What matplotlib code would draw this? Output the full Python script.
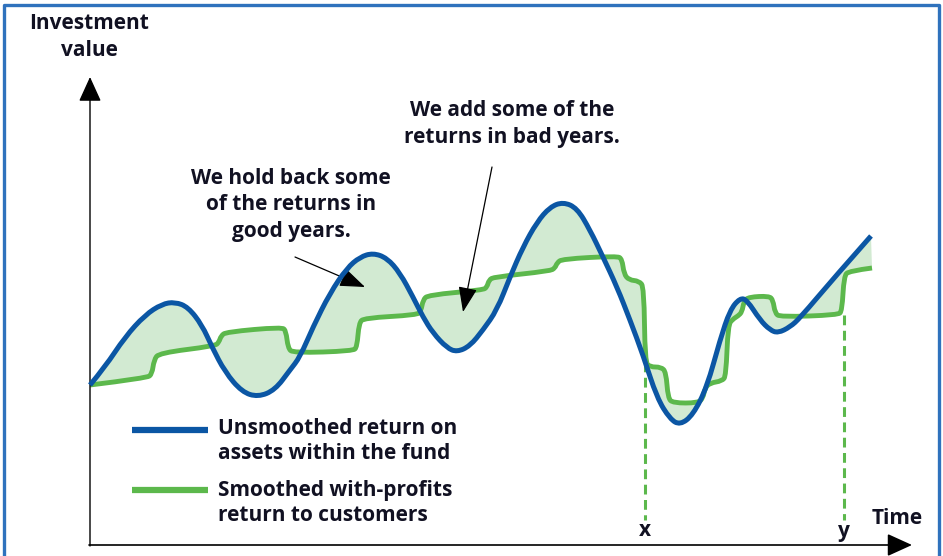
import matplotlib
matplotlib.use('Agg')
import matplotlib.pyplot as plt
from matplotlib.patches import Polygon, PathPatch
from matplotlib.path import Path
from matplotlib.lines import Line2D

plt.rcParams['font.family'] = ['Open Sans', 'DejaVu Sans']

# Unsmoothed return (blue): time, value
blue_t = [0, 15, 35, 55, 72, 85, 98, 112, 122, 135, 152, 168, 185, 200, 210, 223,
          240, 257, 270, 283, 297, 310, 323, 333, 343, 357, 367, 380, 393, 407, 420,
          433, 447, 460, 473, 487, 500, 513, 527, 540, 553, 567, 580, 590, 603, 617,
          630, 640, 650, 657, 670, 680, 688, 700, 710, 743, 781]
blue_v = [160, 178, 208, 230, 241, 243, 238, 220, 198, 173, 153, 148, 155, 175, 188, 218,
          252, 277, 288, 292, 287, 272, 248, 228, 212, 197, 193, 199, 215, 235, 268,
          298, 323, 338, 343, 337, 315, 288, 258, 225, 190, 147, 126, 120, 130, 158,
          205, 235, 247, 245, 225, 215, 212, 218, 227, 266, 309]

# Smoothed with-profits return (green steps)
green_t = [0, 57, 62, 64, 69, 125, 129, 131, 136, 192, 196, 198, 203, 263, 267, 269, 274,
           327, 331, 333, 338, 393, 397, 399, 404, 460, 465, 467, 472, 527, 532, 534, 539,
           549, 554, 555, 560, 571, 576, 578, 583, 608, 613, 615, 620, 632, 636, 638, 643,
           648, 652, 654, 659, 679, 683, 685, 690, 748, 752, 754, 759, 782]
green_v = [160, 167, 171, 185, 192, 199, 203, 209, 213, 218, 214, 197, 192, 194, 198, 222, 227,
           230, 234, 245, 250, 255, 258, 265, 268, 274, 277, 282, 286, 289, 286, 271, 265,
           264, 258, 183, 178, 178, 173, 147, 142, 142, 147, 157, 162, 164, 169, 220, 226,
           229, 233, 244, 248, 249, 245, 232, 228, 230, 234, 269, 274, 277]

# marked times x and y
mark_t = [555, 754]
mark_top = [183, 230]
mark_labels = ['x', 'y']

blue = '#0b56a4'
green = '#5cb84c'
fill = '#d2ead2'
txt = '#111122'
fw = 'bold'


def smooth_path(xs, ys):
    # quadratic B-spline path: read points act as control points
    pts = list(zip(xs, ys))
    verts = [pts[0]]
    codes = [Path.MOVETO]
    for i in range(1, len(pts) - 1):
        mid = ((pts[i][0] + pts[i + 1][0]) / 2, (pts[i][1] + pts[i + 1][1]) / 2)
        if i == len(pts) - 2:
            mid = pts[-1]
        verts += [pts[i], mid]
        codes += [Path.CURVE3, Path.CURVE3]
    return Path(verts, codes)


fig = plt.figure(figsize=(9.43, 5.56), dpi=100)
ax = fig.add_axes([0, 0, 1, 1])
ax.set_xlim(-90, 853)
ax.set_ylim(-11, 545)
ax.axis('off')

blue_path = smooth_path(blue_t, blue_v)
green_path = smooth_path(green_t, green_v)

# shaded area between the two lines
pts = [tuple(p) for p in blue_path.interpolated(8).vertices] + \
      [tuple(p) for p in green_path.interpolated(8).vertices[::-1]]
ax.add_patch(Polygon(pts, closed=True, facecolor=fill, edgecolor='none', zorder=1))

ax.add_patch(PathPatch(green_path, facecolor='none', edgecolor=green, lw=3.5,
                       joinstyle='round', capstyle='butt', zorder=3))
ax.add_patch(PathPatch(blue_path, facecolor='none', edgecolor=blue, lw=3.6,
                       joinstyle='round', capstyle='butt', zorder=4))

for t, top, lab in zip(mark_t, mark_top, mark_labels):
    ax.plot([t, t], [top, 25], color=green, lw=2.2, dashes=(3.2, 1.8), zorder=2)
    ax.text(t, 14, lab, ha='center', va='center', fontsize=15, color=txt,
            fontweight=fw)

# axes with arrows
ax.annotate('', xy=(0, 468), xytext=(0, -1),
            arrowprops=dict(arrowstyle='-|>,head_length=1.1,head_width=0.5',
                            color='black', lw=1.0, mutation_scale=14, shrinkA=0, shrinkB=0))
ax.annotate('', xy=(822, 0), xytext=(-1, 0),
            arrowprops=dict(arrowstyle='-|>,head_length=1.1,head_width=0.5',
                            color='black', lw=1.2, mutation_scale=14, shrinkA=0, shrinkB=0))

ax.text(-1, 508, 'Investment\nvalue', ha='center', va='center', fontsize=15,
        color=txt, fontweight=fw, linespacing=1.35)
ax.text(807, 27, 'Time', ha='center', va='center', fontsize=15, color=txt,
        fontweight=fw)

# callouts
ax.text(201, 340, 'We hold back some\nof the returns in\ngood years.', ha='center',
        va='center', fontsize=15, color=txt, fontweight=fw, linespacing=1.35)
ax.annotate('', xy=(275, 258), xytext=(205, 288),
            arrowprops=dict(arrowstyle='-|>,head_length=1.2,head_width=0.45',
                            color='black', lw=0.9, mutation_scale=13, shrinkA=0, shrinkB=0))
ax.text(422, 421, 'We add some of the\nreturns in bad years.', ha='center',
        va='center', fontsize=15, color=txt, fontweight=fw, linespacing=1.35)
ax.annotate('', xy=(373, 233), xytext=(402, 378),
            arrowprops=dict(arrowstyle='-|>,head_length=1.2,head_width=0.45',
                            color='black', lw=0.9, mutation_scale=13, shrinkA=0, shrinkB=0))

# legend
ax.plot([42, 118], [115, 115], color=blue, lw=4.5, solid_capstyle='butt')
ax.plot([42, 118], [55, 55], color=green, lw=4.5, solid_capstyle='butt')
ax.text(128, 104, 'Unsmoothed return on\nassets within the fund', ha='left',
        va='center', fontsize=15, color=txt, fontweight=fw, linespacing=1.3)
ax.text(128, 42, 'Smoothed with-profits\nreturn to customers', ha='left',
        va='center', fontsize=15, color=txt, fontweight=fw, linespacing=1.3)

# frame around the figure
fig.add_artist(Line2D([4 / 943, 4 / 943, 939 / 943, 939 / 943],
                      [0, 1 - 5 / 556, 1 - 5 / 556, 0],
                      color='#2f72bd', lw=2.4, transform=fig.transFigure))

fig.savefig('out.png', dpi=100)
